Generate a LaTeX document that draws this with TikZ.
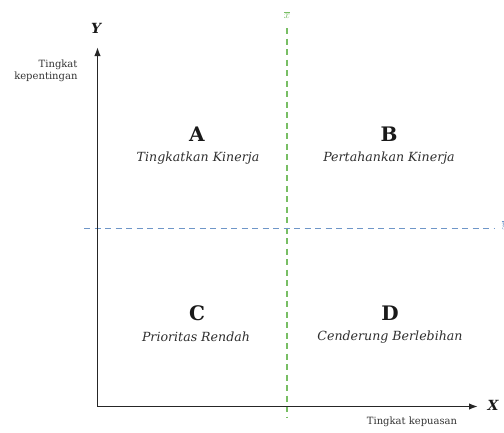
\documentclass[tikz,border=0pt]{standalone}
\usepackage{fontspec}
\setmainfont{DejaVu Serif}
\usetikzlibrary{arrows.meta}
\definecolor{gline}{RGB}{120,190,100}
\definecolor{bline}{RGB}{110,150,200}
\tikzset{
  axis/.style={draw=black!85, line width=1.6pt, -{Latex[length=9pt,width=6.5pt]}},
  gdash/.style={draw=gline, line width=1.3pt, dash pattern=on 6pt off 4.5pt},
  bdash/.style={draw=bline, line width=1.3pt, dash pattern=on 6pt off 4.5pt},
  letter/.style={font=\fontsize{20}{24}\selectfont\bfseries, text=black!90},
  quad/.style={font=\fontsize{12.6}{15}\selectfont\itshape, text=black!82},
  small/.style={font=\fontsize{10}{12}\selectfont, text=black!80},
  axlab/.style={font=\fontsize{14}{16}\selectfont\bfseries\itshape, text=black!90}
}
\begin{document}
\begin{tikzpicture}[x=1pt,y=-1pt]
\useasboundingbox (0,0) rectangle (504,432);
% dashed mean lines
\coordinate (gt) at (287,28);
\coordinate (gb) at (287,418);
\coordinate (bl) at (84,228.5);
\coordinate (br) at (494,228.5);
\draw[gdash] (gt) -- (gb);
\draw[bdash] (bl) -- (br);
% axes
\coordinate (o) at (97.5,406.5);
\coordinate (ytip) at (97.5,47);
\coordinate (xtip) at (478,406.5);
\draw[axis] (o) -- (ytip);
\draw[axis] (o) -- (xtip);
% labels
\node[axlab] (ylab) at (96,28) {Y};
\node[axlab] (xlab) at (493,405) {X};
\node[small, align=right, anchor=east] (ytxt) at (81,71) {Tingkat\\kepentingan};
\node[small] (xtxt) at (412,422) {Tingkat kepuasan};
\node[font=\fontsize{11}{12}\selectfont, text=gline] (xbar) at (287,15) {$\overline{x}$};
\node[font=\fontsize{11}{12}\selectfont, text=bline, anchor=west] (ybar) at (498,225) {$\overline{y}$};
% quadrants
\node[letter] (A) at (197,134) {A};
\node[quad] (At) at (198,158) {Tingkatkan Kinerja};
\node[letter] (B) at (389,134) {B};
\node[quad] (Bt) at (389,158) {Pertahankan Kinerja};
\node[letter] (C) at (197,313) {C};
\node[quad] (Ct) at (196,337) {Prioritas Rendah};
\node[letter] (D) at (390,313) {D};
\node[quad] (Dt) at (390,337) {Cenderung Berlebihan};
\end{tikzpicture}
\end{document}
